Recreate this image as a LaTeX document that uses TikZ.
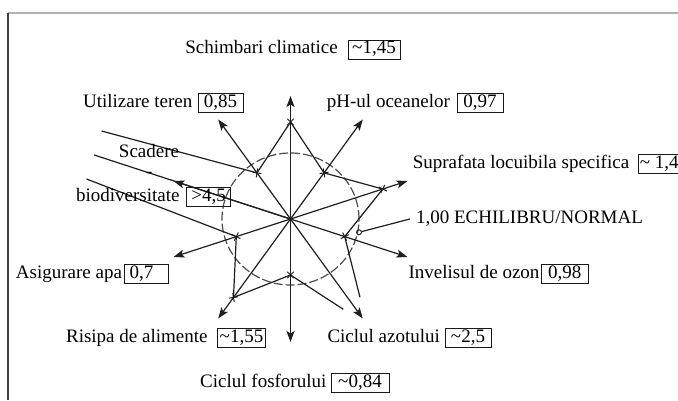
\documentclass[tikz,border=0pt]{standalone}
\usepackage{fontspec}
\setmainfont{Liberation Serif}
\usetikzlibrary{arrows.meta,calc}
\begin{document}
\begin{tikzpicture}[x=1pt,y=1pt,
  ln/.style={draw=black!88,line width=1.2pt},
  arr/.style={ln,-{Stealth[length=11pt,width=8pt,inset=2.5pt]}},
  lab/.style={inner sep=0pt,font=\fontsize{19}{19}\selectfont,text=black,text height=13pt,text depth=4pt},
  val/.style={draw=black!90,line width=0.9pt,inner ysep=0pt,inner xsep=2pt,minimum height=19pt,font=\fontsize{19}{19}\selectfont,text=black,text height=13pt,text depth=4pt},
  xm/.style={draw=black!88,line width=1pt},
  circ/.style={draw=black!70,line width=1.2pt,dash pattern=on 9pt off 3pt}]
\useasboundingbox (0,0) rectangle (678,400);
% frame
\coordinate (bl) at (8,0);
\coordinate (tl) at (8,387);
\coordinate (tr) at (678,387);
\draw[gray!60,line width=1.6pt] (tl) -- (tr);
\draw[black!75,line width=1.4pt] (tl) -- (bl);
% centre and axes
\coordinate (C) at (290.5,181);
\draw[circ] (C) ellipse [x radius=68.5, y radius=66];
\foreach \a [count=\i] in {90,54,18,-18,-54,-90,-126,-162,162,126}{
  \coordinate (t\i) at ($(C)+(\a:123)$);
  \draw[arr] (C) -- (t\i);
}
\coordinate (bfar) at (94.2,245);
\draw[ln] (C) -- (bfar);
% polygon vertices
\coordinate (v1) at ($(C)+(90:97)$);
\coordinate (v2) at ($(C)+(54:57)$);
\coordinate (v3) at ($(C)+(18:97)$);
\coordinate (v4) at ($(C)+(-18:57)$);
\coordinate (a1) at (360,102.7);
\coordinate (a2) at (343.3,90.7);
\coordinate (v6) at ($(C)+(-90:56)$);
\coordinate (v7) at ($(C)+(-126:97)$);
\coordinate (v8) at ($(C)+(-162:57)$);
\coordinate (b1) at (86.5,221);
\coordinate (b2) at (101.6,269);
\coordinate (v10) at ($(C)+(126:57)$);
\draw[ln] (v1) -- (v2) -- (v3) -- (v4) -- (a1);
\draw[ln] (a2) -- (v6) -- (v7) -- (v8) -- (b1);
\draw[ln] (b2) -- (v10) -- (v1);
\foreach \v/\a in {v1/90,v2/54,v3/18,v4/-18,v6/-90,v7/-126,v8/-162,v10/126}{
  \draw[xm] (\v) +(\a+45:4.5) -- +(\a+225:4.5) (\v) +(\a-45:4.5) -- +(\a+135:4.5);
}
% labels
\node[lab] (schT) at (261.5,351) {Schimbari climatice};
\node[val,minimum width=52pt] (schV) at (374,350.5) {\textasciitilde1,45};
\node[lab] (utT) at (137.7,296.7) {Utilizare teren};
\node[val,minimum width=45pt] (utV) at (220.5,296.7) {0,85};
\node[lab] (phT) at (388.4,297) {pH-ul oceanelor};
\node[val,minimum width=46pt] (phV) at (480,297) {0,97};
\node[lab] (suT) at (521,235.7) {Suprafata locuibila specifica};
\node[val,anchor=west] (suV) at (637.5,235.7) {\makebox[50pt][l]{\textasciitilde{} 1,4}};
\node[lab] (eqT) at (529.5,181) {1,00 ECHILIBRU/NORMAL};
\node[circle,draw=black!85,line width=1pt,inner sep=0pt,minimum size=5pt] (eqc) at (359,167.7) {};
\draw[ln] ([xshift=-6pt]eqT.west) -- (eqc);
\node[lab] (ozT) at (474,126) {Invelisul de ozon};
\node[val,minimum width=47pt] (ozV) at (564.7,126) {0,98};
\node[lab] (azT) at (383.7,61.7) {Ciclul azotului};
\node[val,minimum width=46pt] (azV) at (468,61.7) {\textasciitilde2,5};
\node[lab] (foT) at (263.3,16.7) {Ciclul fosforului};
\node[val,minimum width=58pt] (foV) at (360,16.7) {\textasciitilde0,84};
\node[lab] (riT) at (136.8,61.7) {Risipa de alimente};
\node[val,minimum width=44.5pt] (riV) at (241.5,61.7) {\textasciitilde1,55};
\node[lab] (apT) at (69,126) {Asigurare apa};
\node[val] (apV) at (146.5,126) {\makebox[40pt][l]{\,0,7}};
\node[lab] (scT) at (149,247.3) {Scadere};
\node[lab] (hyT) at (149.2,226.7) {-};
\node[lab] (biT) at (127.8,203.3) {biodiversitate};
\node[val,minimum width=43.6pt] (biV) at (208.6,203.3) {>4,5};
\end{tikzpicture}
\end{document}
